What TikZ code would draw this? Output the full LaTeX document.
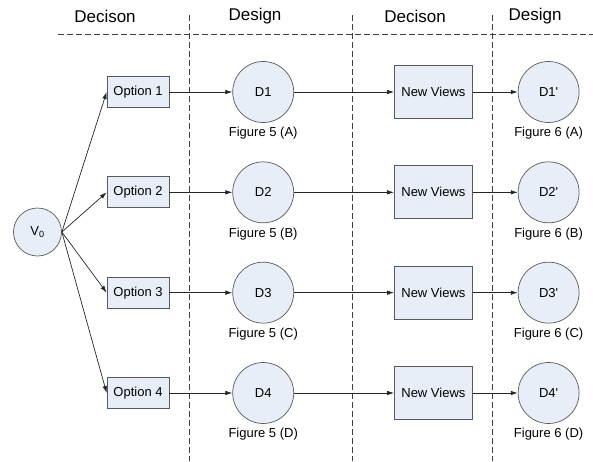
\documentclass[tikz,border=0pt]{standalone}
\usepackage{fontspec}
\setmainfont{Liberation Sans}
\usetikzlibrary{arrows.meta,positioning}
\definecolor{boxblue}{RGB}{232,238,247}

\begin{document}
\begin{tikzpicture}[x=1pt,y=-1pt,line width=0.7pt,
    every node/.style={font=\fontsize{13}{15}\selectfont},
    option/.style={rectangle,draw=black!65,fill=boxblue,minimum width=62pt,minimum height=31pt,inner sep=0pt},
    view/.style={option,minimum width=78pt,minimum height=53pt},
    design/.style={circle,draw=black!65,fill=boxblue,minimum size=61pt,inner sep=0pt},
    header/.style={font=\fontsize{17}{20}\selectfont},
    divider/.style={draw=black!75,line width=0.6pt,dash pattern=on 6pt off 3pt},
    >={Latex[length=7pt,width=4.5pt]}
    ]
    \useasboundingbox (0,0) rectangle (593,461);
    \def\rows{A,B,C,D}

    % column headings and the dashed dividers
    \foreach \t/\x [count=\i] in {Decison/105,Design/255,Decison/415,Design/535} {
        \node[header] (head\i) at (\x,16) {\t};
    }
    \draw[divider] (58,34) -- (593,34);
    \foreach \x in {189,352,492} {
        \draw[divider] (\x,15) -- (\x,461);
    }

    \node[design, minimum size=48pt] (V0) at (37.5,232) {V\textsubscript{0}};

    \foreach \r[count=\i] in \rows {
        \node[option] (opt\i) at (138,{92+100.33*(\i-1)}) {Option \i};
        \node[design, right=63pt of opt\i, label={[label distance=1pt]below:Figure 5 (\r)}] (D\i) {D\i};
        \node[view, right=100pt of D\i] (view\i) {New Views};
        \node[design, right=45pt of view\i, label={[label distance=1pt]below:Figure 6 (\r)}] (Dp\i) {D\i\textquotesingle};
        % fan out from V0, then along the row
        \path[every edge/.style={draw=black!85}, ->]
        (V0.east) edge (opt\i.west)
        (opt\i) edge (D\i)
        (D\i) edge (view\i)
        (view\i) edge (Dp\i);
    }
\end{tikzpicture}
\end{document}
